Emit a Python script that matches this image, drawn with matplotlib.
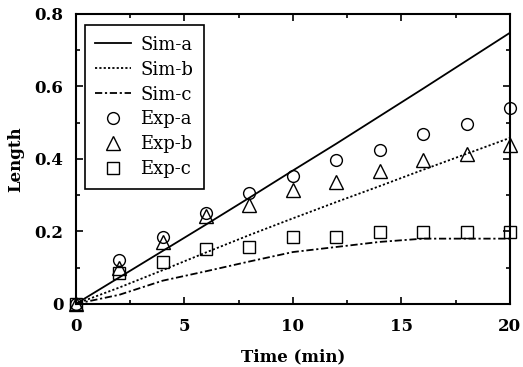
import matplotlib
matplotlib.use("Agg")
import matplotlib.pyplot as plt
from matplotlib.ticker import MultipleLocator, FixedFormatter, FixedLocator

plt.rcParams['font.family'] = ['DejaVu Serif']

# simulated curves
t_sim = [0, 2, 4, 6, 8, 10, 12, 14, 16, 18, 20]
sim_a = [0, 0.073, 0.146, 0.219, 0.293, 0.368, 0.442, 0.518, 0.594, 0.671, 0.748]
sim_b = [0, 0.045, 0.093, 0.142, 0.19, 0.236, 0.281, 0.325, 0.37, 0.414, 0.458]
sim_c = [0, 0.025, 0.064, 0.09, 0.117, 0.143, 0.157, 0.171, 0.18, 0.18, 0.18]

# experimental points
t_exp = [0, 2, 4, 6, 8, 10, 12, 14, 16, 18, 20]
exp_a = [0, 0.121, 0.185, 0.25, 0.306, 0.353, 0.397, 0.425, 0.469, 0.496, 0.541]
exp_b = [0, 0.10, 0.171, 0.243, 0.273, 0.314, 0.337, 0.367, 0.397, 0.414, 0.439]
exp_c = [0, 0.085, 0.116, 0.152, 0.158, 0.185, 0.185, 0.198, 0.198, 0.198, 0.198]

fig = plt.figure(figsize=(5.23, 3.67), dpi=100)
ax = fig.add_axes([0.145, 0.172, 0.83, 0.79])

ax.plot(t_sim, sim_a, 'k-', lw=1.3, label='Sim-a')
ax.plot(t_sim, sim_b, 'k', ls=(0, (1.2, 1.2)), lw=1.3, label='Sim-b')
ax.plot(t_sim, sim_c, 'k', ls=(0, (4, 1.5, 1.2, 1.5)), lw=1.3, label='Sim-c')
ax.plot(t_exp, exp_a, 'o', mfc='none', mec='k', ms=8.5, mew=1, clip_on=False, label='Exp-a')
ax.plot(t_exp, exp_b, '^', mfc='none', mec='k', ms=9.5, mew=1, clip_on=False, label='Exp-b')
ax.plot(t_exp, exp_c, 's', mfc='none', mec='k', ms=8.5, mew=1, clip_on=False, label='Exp-c')

ax.set_xlim(0, 20)
ax.set_ylim(0, 0.8)
ax.xaxis.set_major_locator(MultipleLocator(5))
ax.xaxis.set_minor_locator(MultipleLocator(2.5))
ax.yaxis.set_major_locator(FixedLocator([0, 0.2, 0.4, 0.6, 0.8]))
ax.yaxis.set_major_formatter(FixedFormatter(['0', '0.2', '0.4', '0.6', '0.8']))
ax.yaxis.set_minor_locator(MultipleLocator(0.1))
ax.tick_params(which='both', direction='in', top=True, right=True, labelsize=12, width=1.2)
ax.tick_params(which='major', length=5)
ax.tick_params(which='minor', length=3)
ax.tick_params(axis='x', which='major', pad=10)
ax.tick_params(axis='y', which='major', pad=9)
for lbl in ax.get_xticklabels() + ax.get_yticklabels():
    lbl.set_fontweight('bold')
for s in ax.spines.values():
    s.set_linewidth(1.5)

ax.set_xlabel('Time (min)', fontsize=12, fontweight='bold', labelpad=10)
ax.set_ylabel('Length', fontsize=12, fontweight='bold', labelpad=7)

leg = ax.legend(loc='upper left', fontsize=13, frameon=True, fancybox=False,
                edgecolor='k', framealpha=1, handlelength=2.0, borderpad=0.6,
                labelspacing=0.38, handletextpad=0.5, borderaxespad=0,
                bbox_to_anchor=(0.02, 0.962))
leg.get_frame().set_linewidth(1.2)

fig.savefig('out.png', dpi=100)
